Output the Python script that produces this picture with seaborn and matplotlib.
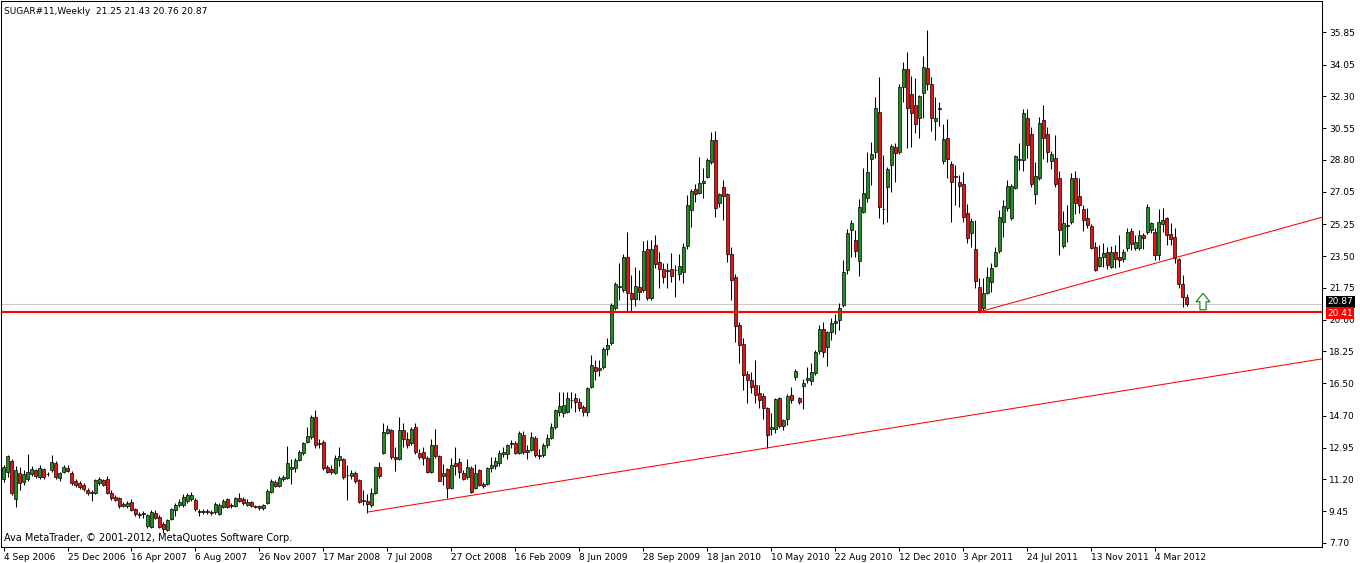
import numpy as np
import matplotlib
matplotlib.use("Agg")
import matplotlib.pyplot as plt
import matplotlib.transforms as mtransforms
import seaborn as sns

# weekly candles, SUGAR#11, 4 Sep 2006 .. Apr 2012
opens = [
    11.21, 11.62, 12.23, 10.10, 11.54, 11.05, 11.20, 11.50, 11.70, 11.32,
    11.76, 11.48, 11.72, 12.09, 11.26, 11.60, 11.82, 11.57, 11.10, 11.00,
    10.90, 10.62, 10.45, 10.47, 11.00, 11.17, 11.21, 10.47, 10.25, 10.16,
    9.75, 9.75, 9.97, 9.55, 9.30, 9.30, 8.63, 8.59, 9.35, 9.15,
    8.75, 8.41, 9.00, 9.50, 9.80, 9.80, 10.00, 10.10, 10.07, 9.45,
    9.40, 9.45, 9.40, 9.40, 9.30, 9.70, 10.10, 9.75, 9.75, 10.16,
    10.10, 9.80, 9.95, 9.75, 9.72, 9.60, 9.88, 10.52, 11.03, 10.86,
    11.22, 11.30, 11.77, 11.81, 12.27, 12.64, 13.28, 13.55, 14.66, 13.22,
    13.28, 11.90, 11.75, 11.57, 12.27, 12.31, 11.45, 11.39, 11.57, 11.17,
    10.00, 10.00, 9.79, 10.47, 11.90, 12.67, 13.77, 13.92, 12.42, 12.31,
    13.92, 13.41, 13.19, 14.10, 12.64, 12.70, 12.36, 11.62, 13.09, 12.49,
    11.39, 11.76, 10.71, 12.13, 12.18, 11.54, 11.32, 11.81, 10.71, 11.72,
    10.95, 10.93, 11.84, 11.95, 12.09, 12.60, 12.60, 13.15, 13.22, 12.67,
    13.65, 12.70, 12.82, 13.46, 12.55, 12.55, 13.10, 13.50, 14.10, 14.90,
    14.84, 14.90, 15.55, 15.66, 15.44, 15.18, 14.93, 16.31, 17.39, 17.25,
    17.39, 18.38, 18.70, 20.66, 21.80, 21.64, 23.47, 21.45, 21.14, 21.82,
    21.64, 23.89, 21.21, 24.12, 23.16, 22.79, 22.70, 22.78, 22.72, 22.52,
    22.65, 24.04, 26.04, 27.20, 26.96, 27.51, 27.88, 28.71, 29.90, 26.45,
    27.29, 26.92, 23.62, 22.37, 19.71, 18.66, 17.01, 16.68, 16.40, 15.94,
    15.79, 15.12, 13.96, 13.96, 15.66, 14.14, 14.51, 15.83, 16.84, 15.66,
    16.35, 16.68, 16.64, 17.05, 18.29, 19.50, 18.51, 19.34, 19.83, 19.98,
    20.81, 22.74, 24.94, 24.39, 23.25, 25.95, 26.69, 28.84, 29.26, 31.43,
    26.10, 27.33, 28.52, 29.51, 29.26, 32.80, 33.80, 32.42, 31.83, 31.10,
    32.47, 33.85, 32.97, 30.96, 31.63, 28.74, 29.99, 28.56, 27.93, 27.60,
    27.49, 25.86, 24.76, 23.89, 21.78, 20.66, 21.45, 22.06, 22.98, 23.78,
    25.36, 26.17, 25.59, 27.27, 28.85, 28.80, 31.13, 30.21, 26.91, 27.82,
    31.00, 30.21, 28.74, 28.89, 27.79, 24.08, 25.15, 25.40, 27.79, 26.84,
    26.10, 25.59, 25.16, 24.02, 22.98, 23.44, 23.71, 22.92, 23.71, 23.47,
    23.35, 23.93, 24.88, 23.93, 23.93, 24.67, 24.81, 24.94, 24.85, 23.56,
    25.26, 25.59, 24.70, 24.57, 23.34, 21.95, 21.25,
]
highs = [
    12.00, 12.55, 12.30, 11.95, 11.90, 11.70, 12.60, 11.95, 11.80, 12.00,
    11.85, 11.60, 12.55, 12.20, 11.60, 12.00, 12.00, 11.65, 11.20, 11.10,
    11.00, 10.70, 10.62, 11.25, 11.35, 11.25, 11.40, 10.60, 10.35, 10.25,
    9.95, 10.00, 10.10, 9.60, 9.40, 9.45, 9.30, 9.50, 9.50, 9.25,
    8.85, 9.00, 9.60, 9.90, 10.10, 10.40, 10.45, 10.50, 10.20, 9.55,
    9.55, 9.55, 9.50, 9.95, 9.90, 10.10, 10.15, 9.90, 10.25, 10.45,
    10.25, 10.10, 10.00, 9.80, 9.80, 9.85, 10.65, 11.20, 11.15, 11.40,
    11.45, 13.06, 12.35, 12.40, 12.80, 13.25, 14.07, 14.75, 15.02, 13.40,
    13.35, 12.00, 12.00, 12.55, 13.00, 12.40, 12.00, 11.70, 11.65, 11.20,
    10.60, 10.40, 10.70, 11.90, 12.18, 14.29, 14.20, 13.95, 13.00, 14.66,
    14.30, 13.80, 14.10, 14.30, 12.90, 13.00, 12.50, 13.40, 14.00, 12.55,
    12.05, 11.85, 12.36, 12.97, 12.36, 11.70, 12.30, 11.95, 12.05, 11.80,
    11.05, 11.90, 12.42, 12.42, 12.82, 13.00, 13.15, 13.35, 13.30, 13.88,
    13.85, 13.10, 13.80, 13.60, 12.90, 13.20, 13.70, 14.30, 15.10, 16.03,
    16.00, 16.00, 16.00, 15.95, 15.70, 15.30, 16.30, 18.05, 17.78, 17.78,
    18.50, 18.97, 20.90, 22.09, 23.10, 23.60, 24.85, 22.46, 22.92, 22.75,
    24.35, 24.40, 24.40, 24.67, 23.75, 23.10, 23.10, 23.66, 23.00, 23.60,
    24.20, 26.87, 27.20, 27.50, 28.98, 28.34, 28.90, 30.36, 30.41, 27.00,
    27.70, 27.00, 24.02, 22.50, 19.90, 19.00, 17.20, 17.14, 17.78, 16.40,
    15.95, 15.20, 14.84, 15.70, 15.75, 14.55, 15.90, 16.31, 17.30, 15.75,
    16.75, 17.40, 17.63, 18.35, 19.70, 19.89, 19.40, 20.10, 20.30, 20.94,
    23.29, 25.00, 25.50, 24.95, 26.63, 28.34, 29.26, 29.81, 32.29, 33.39,
    29.08, 28.40, 29.70, 29.75, 33.00, 34.18, 34.76, 33.43, 33.33, 32.40,
    34.53, 35.96, 33.39, 32.29, 32.00, 30.76, 31.06, 28.75, 28.52, 27.95,
    28.15, 26.36, 25.60, 25.49, 22.30, 22.28, 22.92, 23.10, 24.00, 26.04,
    26.60, 27.70, 27.50, 29.10, 29.72, 31.61, 31.61, 30.60, 28.70, 31.18,
    31.83, 30.60, 29.30, 30.17, 28.20, 26.00, 26.30, 28.10, 28.20, 27.79,
    26.30, 26.13, 25.25, 24.30, 24.10, 24.21, 24.00, 24.05, 24.10, 24.67,
    23.90, 25.05, 25.05, 24.67, 24.95, 24.80, 26.40, 25.40, 25.05, 26.10,
    26.13, 25.65, 25.31, 25.04, 23.40, 22.46, 21.43,
]
lows = [
    11.05, 11.35, 10.35, 9.70, 10.62, 10.90, 11.10, 11.40, 11.30, 11.25,
    11.25, 11.40, 11.63, 11.25, 11.10, 11.55, 11.60, 10.90, 10.80, 10.65,
    10.55, 10.35, 10.00, 10.40, 10.90, 10.85, 10.40, 10.05, 10.00, 9.65,
    9.70, 9.65, 9.45, 9.20, 9.05, 9.10, 8.55, 8.50, 9.00, 8.50,
    8.25, 8.35, 8.95, 9.20, 9.70, 9.70, 9.90, 10.00, 9.45, 9.20,
    9.30, 9.30, 9.25, 9.30, 9.25, 9.60, 9.65, 9.65, 9.70, 9.95,
    9.80, 9.75, 9.70, 9.60, 9.50, 9.50, 9.85, 10.45, 10.80, 10.80,
    11.10, 11.25, 10.95, 11.60, 12.20, 12.55, 13.20, 13.45, 12.95, 12.95,
    11.70, 11.55, 11.50, 11.50, 11.95, 11.25, 10.07, 11.20, 11.00, 9.90,
    9.80, 9.37, 9.70, 10.40, 11.30, 12.60, 13.70, 12.35, 11.68, 12.25,
    13.00, 12.95, 13.10, 12.60, 12.30, 12.00, 11.55, 11.55, 12.40, 11.10,
    10.90, 10.15, 10.65, 11.44, 11.30, 11.15, 11.25, 10.45, 10.65, 10.85,
    10.75, 10.90, 11.60, 11.75, 11.95, 12.45, 12.35, 12.95, 12.60, 12.60,
    12.60, 12.30, 12.75, 12.45, 12.35, 12.45, 12.95, 13.40, 14.00, 14.71,
    14.65, 14.85, 15.15, 14.90, 14.95, 14.70, 14.70, 16.25, 16.68, 16.90,
    17.30, 18.05, 18.60, 20.55, 21.08, 21.50, 20.44, 20.48, 20.77, 21.10,
    21.50, 21.10, 21.10, 22.83, 21.73, 22.00, 21.75, 22.10, 21.27, 22.20,
    22.00, 23.90, 25.09, 26.50, 26.90, 26.69, 27.80, 28.60, 25.67, 26.20,
    25.49, 23.20, 21.08, 18.79, 17.60, 16.13, 15.39, 15.94, 15.39, 15.12,
    14.51, 12.91, 13.65, 13.75, 14.05, 13.90, 14.20, 15.40, 16.70, 15.35,
    15.07, 16.50, 16.40, 16.95, 18.10, 17.93, 17.46, 18.90, 19.20, 19.43,
    20.70, 22.50, 23.47, 23.47, 22.40, 25.90, 26.50, 27.42, 28.90, 25.59,
    25.26, 25.40, 27.02, 27.60, 29.15, 32.01, 29.48, 29.53, 30.27, 30.00,
    31.10, 32.65, 30.40, 29.90, 30.70, 28.60, 27.82, 25.40, 26.32, 26.22,
    25.40, 24.21, 24.02, 21.73, 20.35, 20.55, 21.40, 21.54, 22.90, 23.70,
    24.57, 26.00, 25.50, 27.20, 28.25, 28.19, 28.90, 27.30, 26.36, 27.70,
    28.85, 28.70, 28.30, 27.30, 23.56, 23.95, 24.30, 25.30, 25.80, 25.90,
    24.90, 25.05, 23.90, 22.68, 22.90, 22.92, 22.79, 22.85, 22.85, 22.90,
    23.20, 23.80, 23.85, 23.85, 23.85, 23.90, 24.70, 24.75, 23.30, 23.30,
    24.85, 24.10, 24.10, 23.10, 21.75, 20.72, 20.76,
]
closes = [
    11.90, 12.49, 10.43, 11.72, 11.02, 11.50, 11.63, 11.76, 11.40, 11.82,
    11.32, 11.52, 12.18, 11.32, 11.54, 11.90, 11.68, 10.98, 10.90, 10.76,
    10.65, 10.45, 10.50, 11.17, 11.23, 10.90, 10.47, 10.16, 10.08, 9.75,
    9.85, 9.90, 9.51, 9.30, 9.25, 9.35, 9.24, 9.42, 9.10, 8.60,
    8.45, 8.96, 9.55, 9.80, 9.97, 10.25, 10.35, 10.35, 9.55, 9.40,
    9.45, 9.40, 9.35, 9.85, 9.80, 10.00, 9.70, 9.80, 10.16, 10.00,
    9.88, 9.95, 9.75, 9.70, 9.60, 9.80, 10.58, 11.12, 10.86, 11.26,
    11.35, 12.09, 11.90, 12.27, 12.69, 13.19, 13.59, 14.66, 13.09, 13.13,
    11.81, 11.62, 11.60, 12.36, 12.49, 11.32, 11.42, 11.57, 11.13, 9.97,
    10.05, 9.85, 10.47, 11.86, 11.39, 13.83, 13.96, 12.42, 12.31, 13.92,
    13.41, 13.10, 13.96, 12.73, 12.45, 12.40, 11.62, 13.09, 12.49, 11.13,
    11.54, 10.71, 11.99, 11.94, 11.62, 11.21, 11.86, 10.52, 11.57, 10.90,
    10.85, 11.81, 11.97, 12.22, 12.64, 12.70, 13.09, 13.20, 12.64, 13.74,
    12.73, 12.82, 13.55, 12.55, 12.50, 13.10, 13.50, 14.10, 15.02, 15.24,
    15.30, 15.66, 15.60, 15.48, 15.15, 14.93, 16.21, 17.48, 17.17, 17.32,
    18.38, 18.60, 20.81, 21.95, 21.86, 23.47, 21.45, 21.14, 21.88, 21.54,
    23.78, 21.21, 23.89, 23.07, 22.78, 22.37, 22.72, 22.43, 22.75, 22.96,
    23.99, 26.32, 27.09, 26.92, 27.51, 27.64, 28.80, 29.90, 26.13, 26.92,
    26.81, 23.62, 22.19, 19.65, 18.60, 16.95, 16.68, 16.31, 15.85, 15.57,
    15.12, 13.65, 14.07, 15.61, 14.14, 14.47, 15.79, 15.57, 17.17, 15.48,
    16.53, 16.81, 17.10, 18.24, 19.47, 18.24, 19.30, 19.83, 19.94, 20.62,
    22.61, 24.76, 25.31, 23.78, 26.19, 26.96, 28.15, 29.11, 31.65, 26.22,
    26.12, 28.30, 29.57, 29.17, 32.82, 33.81, 31.65, 31.41, 30.76, 32.32,
    33.90, 32.97, 31.10, 31.13, 31.67, 29.93, 28.85, 27.57, 27.85, 27.38,
    25.67, 24.48, 25.45, 22.15, 20.44, 21.45, 22.37, 22.83, 23.75, 25.67,
    26.26, 27.38, 27.38, 29.02, 28.80, 31.37, 29.63, 27.46, 27.90, 30.82,
    30.03, 29.22, 29.11, 27.46, 24.94, 25.31, 25.20, 27.79, 26.41, 26.32,
    25.49, 25.22, 23.96, 22.74, 23.47, 23.66, 23.00, 23.71, 23.33, 23.29,
    23.75, 24.85, 24.15, 24.26, 24.67, 24.48, 26.22, 25.31, 23.56, 25.36,
    25.49, 24.67, 24.45, 23.38, 21.95, 21.27, 20.87,
]

date_labels = ['4 Sep 2006', '25 Dec 2006', '16 Apr 2007', '6 Aug 2007', '26 Nov 2007',
               '17 Mar 2008', '7 Jul 2008', '27 Oct 2008', '16 Feb 2009', '8 Jun 2009',
               '28 Sep 2009', '18 Jan 2010', '10 May 2010', '22 Aug 2010', '12 Dec 2010',
               '3 Apr 2011', '24 Jul 2011', '13 Nov 2011', '4 Mar 2012']
price_ticks = [35.85, 34.05, 32.30, 30.55, 28.80, 27.05, 25.25, 23.50, 21.75,
               20.00, 18.25, 16.50, 14.70, 12.95, 11.20, 9.45, 7.70]

# drawn objects on the chart
support_level = 20.41
bid_price = 20.87
trend_low_bars = [91, 330]
trend_low_prices = [9.40, 17.85]
trend_high_bars = [244, 330]
trend_high_prices = [20.43, 25.66]

sns.set_theme(style="white")
plt.rcParams['font.family'] = ['DejaVu Sans']

green = "#209020"
red = "#ee1010"

fig = plt.figure(figsize=(13.6, 5.63), dpi=100)
ax = fig.add_axes([0.0004, 0.0284, 0.9716, 0.9698])

idx = np.arange(len(closes))
o = np.array(opens)
c = np.array(closes)
up = c >= o
body_lo = np.minimum(o, c)
body_h = np.abs(c - o)

# wicks then bodies
ax.vlines(idx, lows, highs, color="black", linewidth=0.75, zorder=2)
ax.bar(idx[up], body_h[up], bottom=body_lo[up], width=0.75, color=green,
       edgecolor="black", linewidth=0.5, zorder=3)
ax.bar(idx[~up], body_h[~up], bottom=body_lo[~up], width=0.75, color=red,
       edgecolor="black", linewidth=0.5, zorder=3)

# price lines and trend lines
ax.axhline(bid_price, color="#c8c8c8", linewidth=0.75, zorder=1)
ax.axhline(support_level, color="#ff0000", linewidth=1.5, zorder=4)
sns.lineplot(x=trend_low_bars, y=trend_low_prices, color="#ff0000", linewidth=0.75, ax=ax, zorder=4)
sns.lineplot(x=trend_high_bars, y=trend_high_prices, color="#ff0000", linewidth=0.75, ax=ax, zorder=4)

# hollow up arrow after the last bar
ax.annotate("", xy=(300, 21.45), xytext=(300, 20.55),
            arrowprops=dict(arrowstyle="simple,head_width=0.9,head_length=0.55,tail_width=0.4",
                            fc="white", ec="#1f8a1f", lw=0.9, mutation_scale=11,
                            shrinkA=0, shrinkB=0), zorder=5)

ax.set_xlim(-0.75, 329.75)
ax.set_ylim(7.475, 37.56)

# right price scale
ax.yaxis.tick_right()
ax.set_yticks(price_ticks)
ax.set_yticklabels([f"{v:.2f}" for v in price_ticks])
ax.tick_params(axis="y", which="both", left=False, right=True, labelleft=False, labelright=True,
               direction="out", length=3, width=0.75, pad=2, labelsize=6.5, colors="black")

# bottom dates
ax.set_xticks(np.arange(len(date_labels)) * 16)
ax.set_xticklabels(date_labels, ha="left")
ax.tick_params(axis="x", which="both", bottom=True, top=False, direction="out", length=3,
               width=0.75, pad=1, labelsize=6.5, colors="black")

for s in ax.spines.values():
    s.set_color("black")
    s.set_linewidth(0.75)
    s.set_visible(True)
ax.grid(False)

# price boxes on the scale
trans = mtransforms.blended_transform_factory(ax.transAxes, ax.transData)
ax.text(1.004, bid_price + 0.12, f"{bid_price:.2f}", transform=trans, ha="left", va="center",
        fontsize=6.5, color="white", zorder=10,
        bbox=dict(facecolor="black", edgecolor="none", pad=1.2), clip_on=False)
ax.text(1.004, support_level - 0.05, f"{support_level:.2f}", transform=trans, ha="left", va="center",
        fontsize=6.5, color="white", zorder=10,
        bbox=dict(facecolor="#ff0000", edgecolor="none", pad=1.2), clip_on=False)

fig.text(4 / 1360, 1 - 11 / 563, "SUGAR#11,Weekly  21.25 21.43 20.76 20.87",
         fontsize=6.5, ha="left", va="center", color="black")
fig.text(4 / 1360, 1 - 538 / 563, "Ava MetaTrader, \u00a9 2001-2012, MetaQuotes Software Corp.",
         fontsize=7, ha="left", va="center", color="black")

fig.savefig("out.png", dpi=100)
